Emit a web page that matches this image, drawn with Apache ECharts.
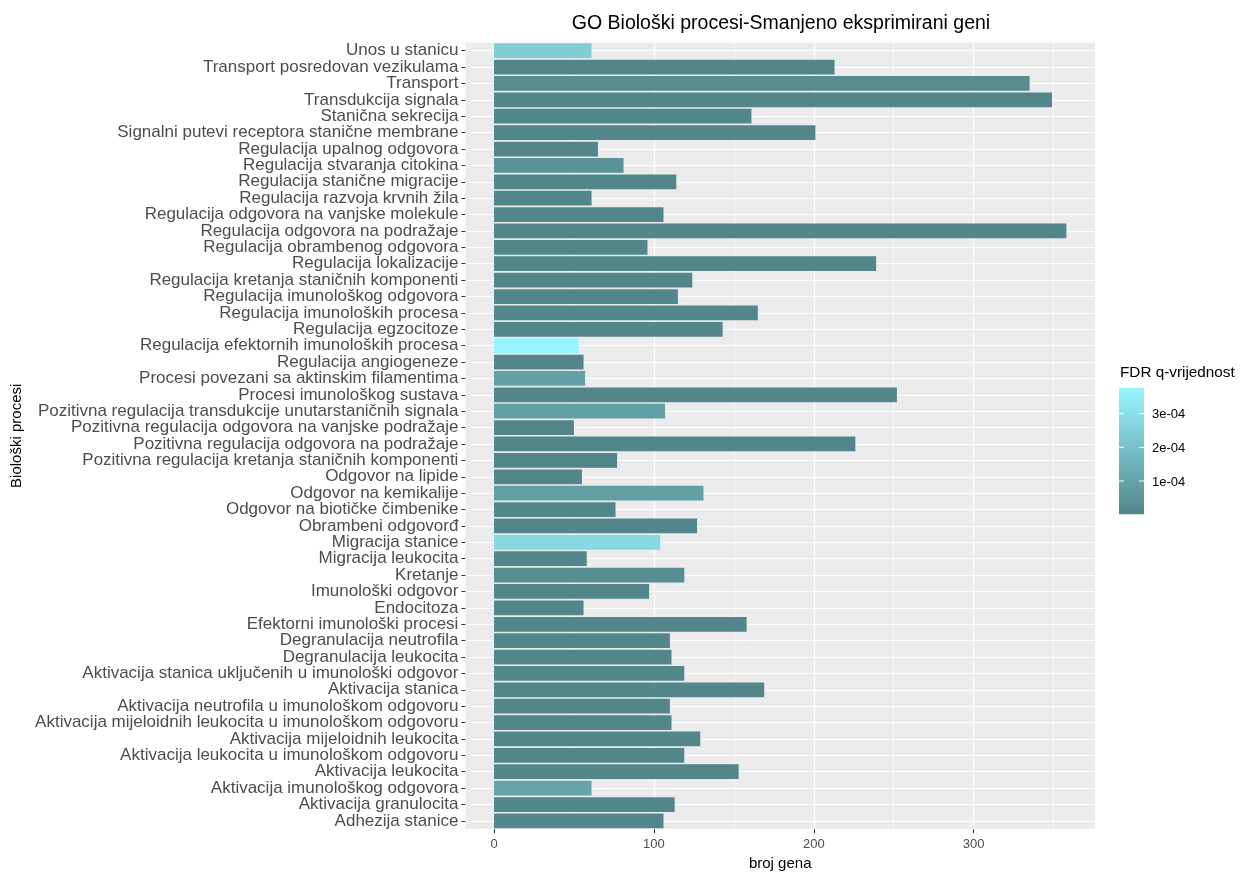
<!DOCTYPE html>
<html><head><meta charset="utf-8">
<script src="https://cdn.jsdelivr.net/npm/echarts@6/dist/echarts.min.js"></script>
<style>html,body{margin:0;padding:0;background:#fff}#c{width:1244px;height:876px}</style>
</head><body><div id="c"></div>
<script>
const titleText = 'GO Biološki procesi-Smanjeno eksprimirani geni';
const xAxisTitle = 'broj gena';
const yAxisTitle = 'Biološki procesi';
const legendTitle = 'FDR q-vrijednost';

const categories = [
  'Unos u stanicu',
  'Transport posredovan vezikulama',
  'Transport',
  'Transdukcija signala',
  'Stanična sekrecija',
  'Signalni putevi receptora stanične membrane',
  'Regulacija upalnog odgovora',
  'Regulacija stvaranja citokina',
  'Regulacija stanične migracije',
  'Regulacija razvoja krvnih žila',
  'Regulacija odgovora na vanjske molekule',
  'Regulacija odgovora na podražaje',
  'Regulacija obrambenog odgovora',
  'Regulacija lokalizacije',
  'Regulacija kretanja staničnih komponenti',
  'Regulacija imunološkog odgovora',
  'Regulacija imunoloških procesa',
  'Regulacija egzocitoze',
  'Regulacija efektornih imunoloških procesa',
  'Regulacija angiogeneze',
  'Procesi povezani sa aktinskim filamentima',
  'Procesi imunološkog sustava',
  'Pozitivna regulacija transdukcije unutarstaničnih signala',
  'Pozitivna regulacija odgovora na vanjske podražaje',
  'Pozitivna regulacija odgovora na podražaje',
  'Pozitivna regulacija kretanja staničnih komponenti',
  'Odgovor na lipide',
  'Odgovor na kemikalije',
  'Odgovor na biotičke čimbenike',
  'Obrambeni odgovorđ',
  'Migracija stanice',
  'Migracija leukocita',
  'Kretanje',
  'Imunološki odgovor',
  'Endocitoza',
  'Efektorni imunološki procesi',
  'Degranulacija neutrofila',
  'Degranulacija leukocita',
  'Aktivacija stanica uključenih u imunološki odgovor',
  'Aktivacija stanica',
  'Aktivacija neutrofila u imunološkom odgovoru',
  'Aktivacija mijeloidnih leukocita u imunološkom odgovoru',
  'Aktivacija mijeloidnih leukocita',
  'Aktivacija leukocita u imunološkom odgovoru',
  'Aktivacija leukocita',
  'Aktivacija imunološkog odgovora',
  'Aktivacija granulocita',
  'Adhezija stanice'
];

const geneCounts = [
  61, 213, 335, 349, 161, 201, 65, 81, 114, 61,
  106, 358, 96, 239, 124, 115, 165, 143, 53, 56,
  57, 252, 107, 50, 226, 77, 55, 131, 76, 127,
  104, 58, 119, 97, 56, 158, 110, 111, 119, 169,
  110, 111, 129, 119, 153, 61, 113, 106
];

const fdrValues = [
  2.4e-4, 1e-6, 2.2e-5, 1e-6, 1e-6, 1e-6, 1e-6, 4.5e-5, 1e-6, 1e-6,
  1e-6, 1e-6, 1e-6, 1e-6, 1e-6, 1e-6, 1e-6, 1e-6, 3.77e-4, 1e-6,
  9e-5, 1e-6, 8.5e-5, 1e-6, 1e-6, 1e-6, 1e-6, 8.5e-5, 1e-6, 1e-6,
  2.8e-4, 1e-6, 2.2e-5, 1e-6, 1e-6, 1e-6, 1e-6, 1e-6, 1e-6, 1e-6,
  1e-6, 1e-6, 1e-6, 1e-6, 1e-6, 1.05e-4, 1e-6, 1e-6
];

const xTickValues = [0, 100, 200, 300];
const xMinorValues = [50, 150, 250, 350];
const legendTickValues = [1e-4, 2e-4, 3e-4];
const legendTickLabels = ['1e-04', '2e-04', '3e-04'];

const FONT = '"Liberation Sans", Arial, sans-serif';
const LOW = '#53868B', HIGH = '#98F5FF';

const maxCount = Math.max(...geneCounts);
const xMin = -0.05 * maxCount, xMax = 1.05 * maxCount;
const fdrMin = Math.min(...fdrValues), fdrMax = Math.max(...fdrValues);
const categoryIdx = categories.map((_, i) => i);

// legend box
const LG = {x: 1119, y: 387.7, w: 25, h: 126.6};
const legendY = v => LG.y + LG.h - (v - fdrMin) / (fdrMax - fdrMin) * LG.h;

const graphics = [
  {type: 'rect', shape: {x: LG.x, y: LG.y, width: LG.w, height: LG.h},
   style: {fill: new echarts.graphic.LinearGradient(0, 1, 0, 0, [{offset: 0, color: LOW}, {offset: 1, color: HIGH}])}},
  {type: 'text', x: LG.x + 1, y: 373, style: {text: legendTitle, font: '15.3px ' + FONT, fill: '#000', verticalAlign: 'middle'}}
];
legendTickValues.forEach((v, i) => {
  const y = legendY(v);
  graphics.push({type: 'line', shape: {x1: LG.x, y1: y, x2: LG.x + 5, y2: y}, style: {stroke: '#fff', lineWidth: 1}});
  graphics.push({type: 'line', shape: {x1: LG.x + LG.w - 5, y1: y, x2: LG.x + LG.w, y2: y}, style: {stroke: '#fff', lineWidth: 1}});
  graphics.push({type: 'text', x: LG.x + 33, y: y + 1, style: {text: legendTickLabels[i], font: '13px ' + FONT, fill: '#000', verticalAlign: 'middle'}});
});

const chart = echarts.init(document.getElementById('c'));
chart.setOption({
  backgroundColor: '#fff',
  animation: false,
  title: {
    text: titleText, left: 776, top: 9, textAlign: 'center',
    textStyle: {fontFamily: FONT, fontSize: 19.5, fontWeight: 'normal', color: '#000'}
  },
  grid: {left: 465.4, right: 149, top: 42.5, bottom: 43, show: true, backgroundColor: '#EBEBEB', borderWidth: 0, containLabel: false},
  visualMap: {
    type: 'continuous', show: false, dimension: 2, seriesIndex: 0,
    min: fdrMin, max: fdrMax, inRange: {color: [LOW, HIGH]}
  },
  xAxis: [
    {
      type: 'value', min: xMin, max: xMax, position: 'bottom',
      name: xAxisTitle, nameLocation: 'middle', nameGap: 26,
      nameTextStyle: {fontFamily: FONT, fontSize: 15, color: '#000'},
      axisLine: {show: false, onZero: false},
      axisTick: {show: true, length: 4, customValues: xTickValues, lineStyle: {color: '#333', width: 1}},
      axisLabel: {customValues: xTickValues, fontFamily: FONT, fontSize: 13, color: '#4D4D4D', margin: 9},
      splitLine: {show: true, lineStyle: {color: '#fff', width: 1.2}}
    },
    {
      type: 'value', min: xMin, max: xMax, position: 'bottom',
      axisLine: {show: false, onZero: false},
      axisTick: {show: false, customValues: xMinorValues},
      axisLabel: {show: false, customValues: xMinorValues},
      splitLine: {show: true, lineStyle: {color: '#fff', width: 0.6}}
    }
  ],
  yAxis: [
    {
      type: 'category', data: categories, inverse: true, position: 'left',
      name: yAxisTitle, nameLocation: 'middle', nameGap: 440, nameRotate: 90,
      nameTextStyle: {fontFamily: FONT, fontSize: 15, color: '#000'},
      axisLine: {show: false, onZero: false},
      axisTick: {show: true, alignWithLabel: true, length: 4, lineStyle: {color: '#333', width: 1}},
      axisLabel: {fontFamily: FONT, fontSize: 17, color: '#4D4D4D', margin: 7, interval: 0, padding: [3, 0, 0, 0]},
      splitLine: {show: false}
    },
    {
      // hidden helper axis: white major grid lines at category centres
      type: 'value', min: -0.5, max: categories.length - 0.5, inverse: true, position: 'left',
      axisLine: {show: false, onZero: false},
      axisTick: {show: false, customValues: categoryIdx},
      axisLabel: {show: false, customValues: categoryIdx},
      splitLine: {show: true, lineStyle: {color: '#fff', width: 1.2}}
    }
  ],
  series: [{
    type: 'bar', xAxisIndex: 0, yAxisIndex: 0,
    data: categories.map((c, i) => [geneCounts[i], c, fdrValues[i]]),
    encode: {x: 0, y: 1},
    barCategoryGap: '10%'
  }],
  graphic: graphics
});
</script></body></html>
